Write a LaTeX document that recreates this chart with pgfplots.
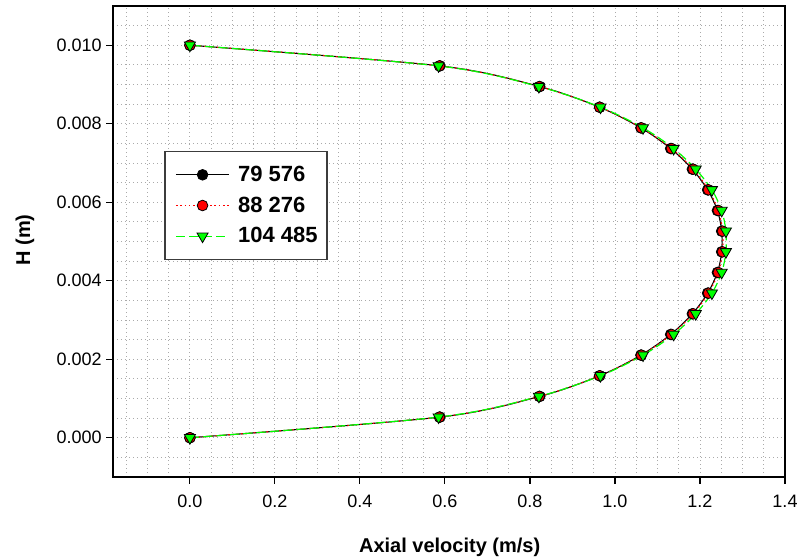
\documentclass[border=0pt]{standalone}
\usepackage{pgfplots}
\pgfplotsset{compat=1.18}
\usepackage{pgfplotstable}
\usepackage{fontspec}
\setmainfont{Liberation Sans}
\definecolor{lgreen}{RGB}{0,255,0}
\definecolor{lred}{RGB}{255,0,0}
\definecolor{gridgray}{RGB}{170,170,170}
\definecolor{legframe}{RGB}{60,60,60}

\pgfplotstableread{
x y
0.000 0.000000
0.588 0.000526
0.823 0.001053
0.964 0.001579
1.061 0.002105
1.131 0.002632
1.182 0.003158
1.218 0.003684
1.241 0.004211
1.251 0.004737
1.251 0.005263
1.241 0.005789
1.218 0.006316
1.182 0.006842
1.131 0.007368
1.061 0.007895
0.964 0.008421
0.823 0.008947
0.588 0.009474
0.000 0.010000
}\seriesA

\pgfplotstableread{
x y
0.000 0.000000
0.587 0.000526
0.822 0.001053
0.964 0.001579
1.062 0.002105
1.133 0.002632
1.184 0.003158
1.220 0.003684
1.243 0.004211
1.253 0.004737
1.253 0.005263
1.243 0.005789
1.220 0.006316
1.184 0.006842
1.133 0.007368
1.062 0.007895
0.964 0.008421
0.822 0.008947
0.587 0.009474
0.000 0.010000
}\seriesB

\pgfplotstableread{
x y
0.000 0.000000
0.585 0.000526
0.821 0.001053
0.966 0.001579
1.066 0.002105
1.138 0.002632
1.190 0.003158
1.228 0.003684
1.251 0.004211
1.261 0.004737
1.261 0.005263
1.251 0.005789
1.228 0.006316
1.190 0.006842
1.138 0.007368
1.066 0.007895
0.966 0.008421
0.821 0.008947
0.585 0.009474
0.000 0.010000
}\seriesC

\begin{document}
\begin{tikzpicture}
\begin{axis}[
  scale only axis,
  width=504pt, height=353.25pt,
  xmin=-0.181, xmax=1.4,
  ymin=-0.001, ymax=0.011,
  xtick={0,0.2,0.4,0.6,0.8,1.0,1.2,1.4},
  ytick={0,0.002,0.004,0.006,0.008,0.010},
  minor xtick={-0.15,-0.1,-0.05,0.05,0.1,0.15,0.25,0.3,0.35,0.45,0.5,0.55,0.65,0.7,0.75,0.85,0.9,0.95,1.05,1.1,1.15,1.25,1.3,1.35},
  minor ytick={-0.0005,0.0005,0.001,0.0015,0.0025,0.003,0.0035,0.0045,0.005,0.0055,0.0065,0.007,0.0075,0.0085,0.009,0.0095,0.0105},
  scaled x ticks=false, scaled y ticks=false,
  xticklabel style={/pgf/number format/.cd, fixed, fixed zerofill, precision=1, /tikz/.cd, yshift=-5pt},
  yticklabel style={/pgf/number format/.cd, fixed, fixed zerofill, precision=3},
  /pgf/number format/assume math mode=true,
  tick label style={font=\fontsize{13.5}{15}\selectfont, black},
  xtick pos=left, ytick pos=left,
  tick align=outside,
  major tick length=5pt,
  minor tick length=0pt,
  tick style={black, line width=0.8pt},
  axis line style={black, line width=0.9pt},
  grid=both,
  major grid style={gridgray, dash pattern=on 0.7pt off 2.3pt, line width=0.7pt},
  minor grid style={gridgray, dash pattern=on 0.7pt off 2.3pt, line width=0.7pt},
  xlabel={Axial velocity (m/s)},
  ylabel={H (m)},
  label style={font=\fontsize{15}{18}\selectfont\bfseries},
  xlabel style={at={(axis description cs:0.501,-0.150)}, anchor=center},
  ylabel style={at={(axis description cs:-0.131,0.503)}, anchor=center},
  legend style={
    at={(axis description cs:0.076,0.693)}, anchor=north west,
    draw=legframe, line width=1.3pt, fill=white,
    font=\fontsize{16.5}{19}\selectfont\bfseries,
    inner xsep=5pt, inner ysep=9pt,
    row sep=6pt,
    cells={anchor=west},
  },
]
\addplot[black, solid, line width=0.8pt, smooth, mark=*, mark size=4pt, mark options={solid, fill=black, draw=black, line width=0.6pt},
  legend image code/.code={%
    \draw[black, solid, line width=0.9pt, mark repeat=2, mark phase=2] plot coordinates {(0cm,0cm) (0.7cm,0cm) (1.4cm,0cm)};
    \path (-0.1cm,0cm) (1.55cm,0cm);}] table[x=x, y=y] {\seriesA};
\addlegendentry{79 576}
\addplot[color=lred, dash pattern=on 1.2pt off 2pt, line width=0.9pt, smooth, mark=*, mark size=4pt, mark options={solid, fill=lred, draw=black, line width=0.6pt},
  legend image code/.code={%
    \draw[lred, dash pattern=on 1.2pt off 2pt, line width=0.9pt, mark repeat=2, mark phase=2] plot coordinates {(0cm,0cm) (0.7cm,0cm) (1.4cm,0cm)};
    \path (-0.1cm,0cm) (1.55cm,0cm);}] table[x=x, y=y] {\seriesB};
\addlegendentry{88 276}
\addplot[lgreen, dash pattern=on 7pt off 3pt, line width=0.9pt, smooth, mark=triangle*, mark size=4.8pt, mark options={solid, fill=lgreen, draw=black, line width=0.6pt, rotate=180},
  legend image code/.code={%
    \draw[lgreen, dash pattern=on 7pt off 3pt, line width=0.9pt, mark repeat=2, mark phase=2] plot coordinates {(0cm,0cm) (0.7cm,0cm) (1.4cm,0cm)};
    \path (-0.1cm,0cm) (1.55cm,0cm);}] table[x=x, y=y] {\seriesC};
\addlegendentry{104 485}
\end{axis}
\pgfresetboundingbox
\path (current axis.south west) ++(-84.75pt,-62.25pt) rectangle ++(600pt,420pt);
\end{tikzpicture}
\end{document}
